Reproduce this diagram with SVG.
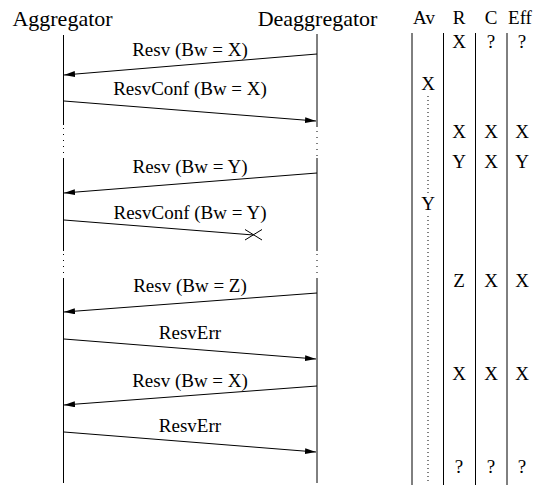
<svg xmlns="http://www.w3.org/2000/svg" width="538" height="487" viewBox="0 0 538 487">
  <style>
    text { font-family: "Liberation Serif", "Times New Roman", serif; fill: #000; }
    .title { font-size: 22px; text-anchor: middle; }
    .lbl { font-size: 19px; text-anchor: middle; }
    .cell { font-size: 19px; text-anchor: middle; }
    .life { stroke: #000; stroke-width: 1; fill: none; }
    .gap { stroke: #000; stroke-width: 1; stroke-dasharray: 1 5; fill: none; }
    .col { stroke: #000; stroke-width: 1; fill: none; }
    .avdots { stroke: #000; stroke-width: 1; stroke-dasharray: 1 3; fill: none; }
    .msg { stroke: #000; stroke-width: 1; fill: none; }
    .msg.arr { marker-end: url(#head); }
  </style>
  <defs>
    <marker id="head" markerUnits="userSpaceOnUse" markerWidth="12" markerHeight="7" refX="11" refY="3" orient="auto">
      <path d="M0,0 L11,3 L0,6 Z" fill="#000"/>
    </marker>
  </defs>
  <rect width="538" height="487" fill="#fff"/>

  <!-- Aggregator lifeline -->
  <g id="aggregator">
    <text class="title" x="62.5" y="26">Aggregator</text>
    <path class="life" d="M63.5,35 V125 M63.5,158 V251 M63.5,278 V483"/>
    <path class="gap" d="M63.5,128 V157 M63.5,254 V277"/>
  </g>

  <!-- Deaggregator lifeline -->
  <g id="deaggregator">
    <text class="title" x="317.5" y="26">Deaggregator</text>
    <path class="life" d="M317,34 V127 M317,158 V251 M317,278 V483"/>
    <path class="gap" d="M317,131 V157 M317,254 V277"/>
  </g>

  <!-- Bandwidth table: available, requested, confirmed, effective -->
  <g id="table">
    <text class="cell" x="424" y="24">Av</text>
    <text class="cell" x="459" y="24">R</text>
    <text class="cell" x="491" y="24">C</text>
    <text class="cell" x="520" y="24">Eff</text>
    <path class="col" d="M412,33 V485 M443.5,33 V485 M475.5,33 V485 M507,33 V485"/>
    <path class="avdots" d="M428,96 V195 M428,216 V483"/>
  </g>

  <g id="col-av">
    <text class="cell" x="428" y="90">X</text>
    <text class="cell" x="428" y="210">Y</text>
  </g>
  <g id="col-r">
    <text class="cell" x="459" y="48">X</text>
    <text class="cell" x="459" y="138">X</text>
    <text class="cell" x="459" y="168">Y</text>
    <text class="cell" x="459" y="287">Z</text>
    <text class="cell" x="459" y="380">X</text>
    <text class="cell" x="459" y="473">?</text>
  </g>
  <g id="col-c">
    <text class="cell" x="491" y="48">?</text>
    <text class="cell" x="491" y="138">X</text>
    <text class="cell" x="491" y="168">X</text>
    <text class="cell" x="491" y="287">X</text>
    <text class="cell" x="491" y="380">X</text>
    <text class="cell" x="491" y="473">?</text>
  </g>
  <g id="col-eff">
    <text class="cell" x="522" y="48">?</text>
    <text class="cell" x="522" y="138">X</text>
    <text class="cell" x="522" y="168">Y</text>
    <text class="cell" x="522" y="287">X</text>
    <text class="cell" x="522" y="380">X</text>
    <text class="cell" x="522" y="473">?</text>
  </g>

  <!-- Messages -->
  <g id="connectors">
    <line class="msg arr" x1="317" y1="54" x2="64" y2="75"/>
    <text class="lbl" x="190" y="56">Resv (Bw = X)</text>

    <line class="msg arr" x1="64" y1="101" x2="316" y2="121"/>
    <text class="lbl" x="190" y="95">ResvConf (Bw = X)</text>

    <line class="msg arr" x1="317" y1="173" x2="64" y2="193"/>
    <text class="lbl" x="190" y="173">Resv (Bw = Y)</text>

    <line class="msg" x1="64" y1="220" x2="253.5" y2="235"/>
    <path class="msg" d="M245,229.5 L262,240 M245,240 L262,229.5"/>
    <text class="lbl" x="190" y="219">ResvConf (Bw = Y)</text>

    <line class="msg arr" x1="317" y1="293" x2="64" y2="312"/>
    <text class="lbl" x="190" y="292">Resv (Bw = Z)</text>

    <line class="msg arr" x1="64" y1="339" x2="316" y2="359"/>
    <text class="lbl" x="190" y="339">ResvErr</text>

    <line class="msg arr" x1="317" y1="386" x2="64" y2="405"/>
    <text class="lbl" x="190" y="387">Resv (Bw = X)</text>

    <line class="msg arr" x1="64" y1="432" x2="316" y2="452"/>
    <text class="lbl" x="190" y="432">ResvErr</text>
  </g>
</svg>
